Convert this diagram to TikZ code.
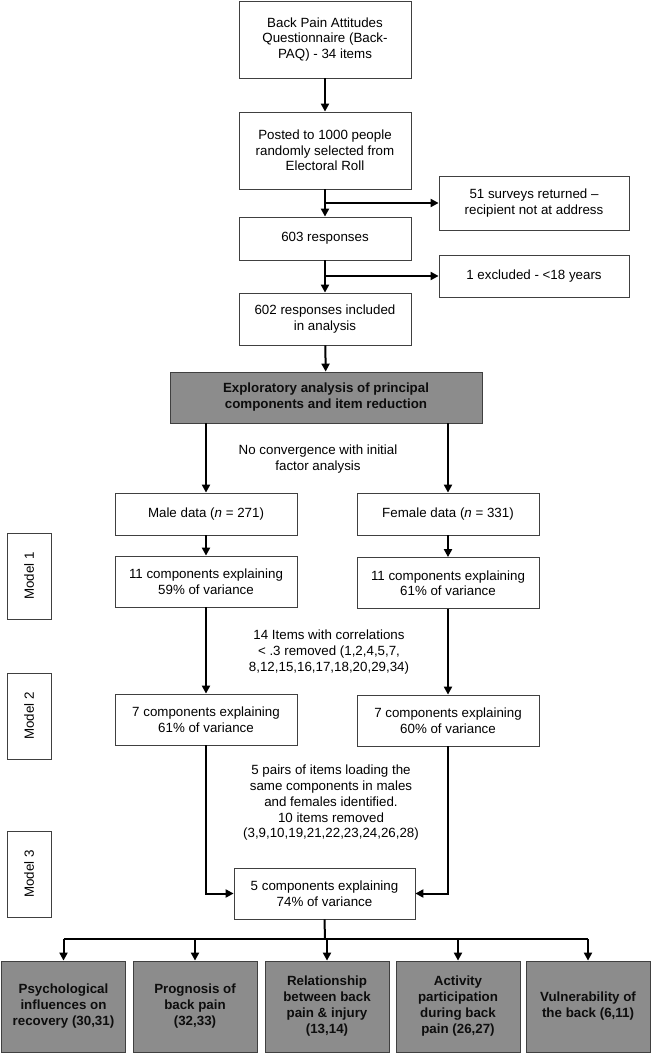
\documentclass[tikz,border=0pt]{standalone}
\usepackage{fontspec}
\setmainfont{Liberation Sans}
\usetikzlibrary{arrows.meta}

\begin{document}
\begin{tikzpicture}[x=0.75pt,y=-0.75pt,
    box/.style={draw=black!75,fill=white,line width=0.6pt,align=center,inner sep=0pt,
      font=\fontsize{10}{11.6}\selectfont},
    colbox/.style={box,minimum width=129pt},
    sidebox/.style={box,minimum width=142.5pt},
    armbox/.style={box,minimum width=136.5pt},
    modelbox/.style={box,rotate=90,minimum width=64.5pt,minimum height=33pt},
    greybox/.style={box,fill=black!45,text=black!95,font=\fontsize{10}{12}\selectfont\bfseries},
    outbox/.style={greybox,minimum width=93pt,minimum height=68.25pt},
    note/.style={align=center,inner sep=0pt,font=\fontsize{10}{11.8}\selectfont},
    link/.style={line width=1.5pt},
    arr/.style={link,-{Triangle[length=6pt,width=6pt]}}]
  \useasboundingbox (0,0) rectangle (650,1053);

  \node[colbox,minimum height=57.75pt] (quest) at (325,39.5)
    {Back Pain Attitudes\\Questionnaire (Back-\\PAQ) - 34 items};
  \node[colbox,minimum height=57.75pt] (post) at (325,150.5)
    {Posted to 1000 people\\randomly selected from\\Electoral Roll};
  \node[sidebox,minimum height=40.5pt] (ret) at (534,203)
    {51 surveys returned \textendash\\recipient not at address};
  \node[colbox,minimum height=32.25pt] (resp) at (325,238.5) {603 responses};
  \node[sidebox,minimum height=31.5pt] (excl) at (534,276) {1 excluded - <18 years};
  \node[colbox,minimum height=39pt] (incl) at (325,319)
    {602 responses included\\in analysis};
  \node[greybox,minimum width=234pt,minimum height=38.25pt] (pca) at (326,397.5)
    {Exploratory analysis of principal\\components and item reduction};

  \node[note] (conv) at (318,459) {No convergence with initial\\factor analysis};

  \node[armbox,minimum height=31.5pt] (male) at (206,514) {Male data (\textit{n} = 271)};
  \node[armbox,minimum height=31.5pt] (female) at (448,514) {Female data (\textit{n} = 331)};
  \node[armbox,minimum height=38.25pt] (male1) at (206,581.5)
    {11 components explaining\\59\% of variance};
  \node[armbox,minimum height=38.25pt] (female1) at (448,583)
    {11 components explaining\\61\% of variance};

  \node[note] (corr) at (329,652)
    {14 Items with correlations\\< .3 removed (1,2,4,5,7,\\8,12,15,16,17,18,20,29,34)};

  \node[armbox,minimum height=38.25pt] (male2) at (206,719.5)
    {7 components explaining\\61\% of variance};
  \node[armbox,minimum height=38.25pt] (female2) at (448,720.5)
    {7 components explaining\\60\% of variance};

  \node[note] (pairs) at (331,803)
    {5 pairs of items loading the\\same components in males\\and females identified.\\10 items removed\\(3,9,10,19,21,22,23,24,26,28)};

  \node[box,minimum width=135.75pt,minimum height=38.25pt] (final) at (324.5,893.5)
    {5 components explaining\\74\% of variance};

  \node[modelbox] (model1) at (29,576) {Model 1};
  \node[modelbox] (model2) at (29,716) {Model 2};
  \node[modelbox] (model3) at (29,874) {Model 3};

  \node[outbox] (comp1) at (63.5,1006.5) {Psychological\\influences on\\recovery (30,31)};
  \node[outbox] (comp2) at (195,1006.5) {Prognosis of\\back pain\\(32,33)};
  \node[outbox] (comp3) at (327,1006.5) {Relationship\\between back\\pain \& injury\\(13,14)};
  \node[outbox] (comp4) at (458,1006.5) {Activity\\participation\\during back\\pain (26,27)};
  \node[outbox] (comp5) at (588,1006.5) {Vulnerability of\\the back (6,11)};

  \draw[arr] (quest) -- (post);
  \draw[arr] (post) -- (resp);
  \draw[arr] (post.south |- ret.west) -- (ret.west);
  \draw[arr] (resp) -- (incl);
  \draw[arr] (resp.south |- excl.west) -- (excl.west);
  \draw[arr] (incl) -- (pca);
  \draw[arr] (male.north |- pca.south) -- (male.north);
  \draw[arr] (female.north |- pca.south) -- (female.north);
  \draw[arr] (male) -- (male1);
  \draw[arr] (female) -- (female1);
  \draw[arr] (male1.south) -- (male2.north);
  \draw[arr] (female1.south) -- (female2.north);
  \draw[arr] (male2.south) |- (final.west);
  \draw[arr] (female2.south) |- (final.east);

  \coordinate (bus) at (325,939);
  \draw[link] (final.south) -- (bus);
  \draw[link] (comp1.north |- bus) -- (comp5.north |- bus);
  \foreach \i in {1,...,5}
    \draw[arr] (comp\i.north |- bus) -- (comp\i.north);
\end{tikzpicture}
\end{document}
